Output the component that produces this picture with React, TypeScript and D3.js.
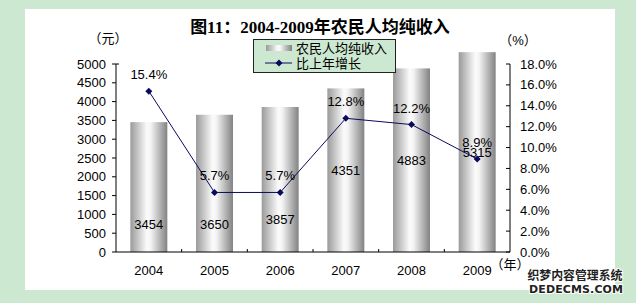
import React from "react";
import * as d3 from "d3";

// 数据
const years = ["2004", "2005", "2006", "2007", "2008", "2009"];
const income = [3454, 3650, 3857, 4351, 4883, 5315];
const growth = [15.4, 5.7, 5.7, 12.8, 12.2, 8.9];
const incomeTicks = [0, 500, 1000, 1500, 2000, 2500, 3000, 3500, 4000, 4500, 5000];
const growthTicks = [0, 2, 4, 6, 8, 10, 12, 14, 16, 18];

const W = 636;
const H = 303;
const green = "#cce8d0";
const navy = "#0a0a5e";
const font = "'Liberation Sans', 'Noto Sans CJK SC', sans-serif";

const App = () => {
  const left = 116;
  const right = 510;
  const bottom = 252;
  const top = 64;

  const x = d3
    .scaleBand()
    .domain(years)
    .range([left, right])
    .paddingInner(0.437)
    .paddingOuter(0.2185);
  const yL = d3.scaleLinear().domain([0, 5000]).range([bottom, top]);
  const yR = d3.scaleLinear().domain([0, 18]).range([bottom, top]);
  const bw = x.bandwidth();
  const cx = (c: string) => (x(c) as number) + bw / 2;

  // 数值标签的位置（柱高的比例），原图中是手动摆放的
  const labelFrac = [0.216, 0.204, 0.228, 0.5, 0.5, 0.5];

  const line = d3
    .line<number>()
    .x((_, i) => cx(years[i]))
    .y((d) => yR(d));

  const diamond = (px: number, py: number, r = 3.5) =>
    `M${px},${py - r}L${px + r},${py}L${px},${py + r}L${px - r},${py}Z`;

  return (
    <svg
      width={W}
      height={H}
      style={{ position: "absolute", left: 0, top: 0 }}
      fontFamily={font}
    >
      <defs>
        <linearGradient id="cyl" x1="0" x2="1" y1="0" y2="0">
          <stop offset="0" stopColor="#9a9a9a" />
          <stop offset="0.45" stopColor="#fbfbfb" />
          <stop offset="0.55" stopColor="#f4f4f4" />
          <stop offset="1" stopColor="#828282" />
        </linearGradient>
      </defs>
      <rect width={W} height={H} fill={green} />
      <rect x={25} y={9} width={590} height={281} fill="#fff" />

      {/* 标题 */}
      <text
        x={320}
        y={33}
        textAnchor="middle"
        fontSize={17}
        fontWeight="bold"
        fontFamily="'Liberation Serif', 'Noto Sans CJK SC', serif"
      >
        图11：2004-2009年农民人均纯收入
      </text>

      {/* 柱子 */}
      {years.map((c, i) => (
        <rect
          key={c}
          x={x(c)}
          y={yL(income[i])}
          width={bw}
          height={bottom - yL(income[i])}
          fill="url(#cyl)"
        />
      ))}

      {/* 左轴 */}
      <line x1={left} x2={left} y1={top} y2={bottom} stroke="#000" />
      {incomeTicks.map((t) => (
        <g key={t}>
          <line x1={left - 4} x2={left} y1={yL(t)} y2={yL(t)} stroke="#000" />
          <text x={106} y={yL(t) + 4.5} textAnchor="end" fontSize={13}>
            {t}
          </text>
        </g>
      ))}
      <line x1={left} x2={left + 3} y1={top} y2={top} stroke="#000" />

      {/* 右轴 */}
      <line x1={right} x2={right} y1={top} y2={bottom} stroke="#000" />
      {growthTicks.map((t) => (
        <g key={t}>
          <line x1={right - 4} x2={right} y1={yR(t)} y2={yR(t)} stroke="#000" />
          <text x={520} y={yR(t) + 4.5} textAnchor="start" fontSize={13}>
            {t.toFixed(1)}%
          </text>
        </g>
      ))}

      {/* X轴 */}
      <line x1={left} x2={right} y1={bottom} y2={bottom} stroke="#000" />
      {years.slice(1).map((c) => (
        <line
          key={c}
          x1={x(c)! - (x.step() - bw) / 2}
          x2={x(c)! - (x.step() - bw) / 2}
          y1={bottom - 3}
          y2={bottom}
          stroke="#000"
        />
      ))}
      {years.map((c) => (
        <text key={c} x={cx(c)} y={275} textAnchor="middle" fontSize={13}>
          {c}
        </text>
      ))}

      {/* 单位 */}
      <text x={108} y={43} textAnchor="middle" fontSize={13}>
        （元）
      </text>
      <text x={518} y={45} textAnchor="middle" fontSize={13}>
        （%）
      </text>
      <text x={510} y={269} textAnchor="middle" fontSize={13}>
        （年）
      </text>

      {/* 柱子数值 */}
      {years.map((c, i) => (
        <text
          key={c}
          x={cx(c)}
          y={yL(income[i] * labelFrac[i]) + 5}
          textAnchor="middle"
          fontSize={13}
        >
          {income[i]}
        </text>
      ))}

      {/* 折线 */}
      <path d={line(growth) ?? ""} fill="none" stroke={navy} strokeWidth={1} />
      {growth.map((g, i) => (
        <path key={i} d={diamond(cx(years[i]), yR(g))} fill={navy} />
      ))}
      {growth.map((g, i) => (
        <text
          key={i}
          x={cx(years[i])}
          y={yR(g) - 12}
          textAnchor="middle"
          fontSize={13}
        >
          {g.toFixed(1)}%
        </text>
      ))}

      {/* 图例 */}
      <rect x={253.5} y={39.5} width={142} height={33} fill={green} stroke="#222" />
      <rect x={266} y={45} width={26} height={6} fill="url(#cyl)" />
      <text x={296} y={53} fontSize={13}>
        农民人均纯收入
      </text>
      <line x1={265} x2={292} y1={63} y2={63} stroke={navy} />
      <path d={diamond(279, 63)} fill={navy} />
      <text x={296} y={68} fontSize={13}>
        比上年增长
      </text>

      {/* 水印 */}
      <text
        x={575}
        y={280}
        textAnchor="middle"
        fontSize={12}
        fontWeight="bold"
        fill="#222"
        stroke="#fff"
        strokeWidth={2}
        paintOrder="stroke"
        textLength={95}
        fontFamily="'Noto Sans CJK SC', sans-serif"
      >
        织梦内容管理系统
      </text>
      <text
        x={576}
        y={293}
        textAnchor="middle"
        fontSize={11}
        fontWeight="bold"
        fill="#222"
        stroke="#fff"
        strokeWidth={2}
        paintOrder="stroke"
        textLength={94}
        lengthAdjust="spacing"
        fontFamily="'DejaVu Sans', sans-serif"
      >
        DEDECMS.COM
      </text>
    </svg>
  );
};

export default App;
